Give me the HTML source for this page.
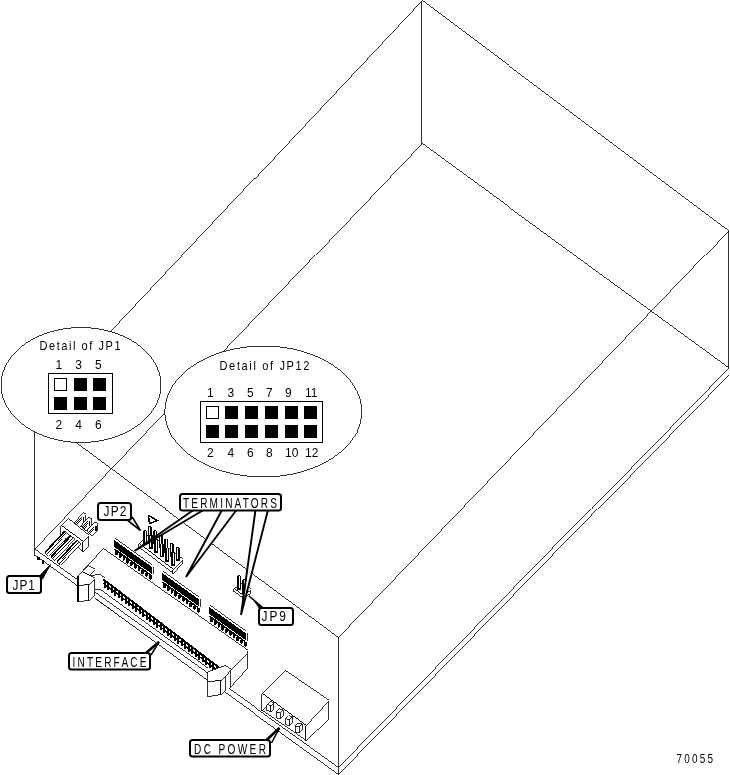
<!DOCTYPE html>
<html><head><meta charset="utf-8"><style>
html,body{margin:0;padding:0;background:#fff;width:730px;height:775px;overflow:hidden}
svg{display:block;will-change:transform}
text{font-family:"Liberation Sans",sans-serif;fill:#000}
</style></head><body>
<svg width="730" height="775" viewBox="0 0 730 775">
<defs>
<pattern id="dots" width="2" height="2" patternUnits="userSpaceOnUse"><rect x="0" y="0" width="1" height="1" fill="#000"/><rect x="1" y="1" width="1" height="1" fill="#000"/></pattern>
</defs>

<g fill="none" stroke="#000" stroke-width="0.8" shape-rendering="crispEdges">
<path d="M421.5 0.5 L728.5 230.5 L728.5 367.5" />
<path d="M421.5 0.5 L421.5 143.5 L728.5 367.5" />
<path d="M728.5 230.5 L338.5 637.5 L338.5 774.5" />
<path d="M728.5 367.5 L338.5 767.5" />
<path d="M728.5 374.5 L338.5 774.5" />
<path d="M421.5 0.5 L34.5 412.5 L34.5 555.5" />
<path d="M421.5 143.5 L34.5 549.5" />
<path d="M34.5 412.5 L338.5 637.5" />
<path d="M34.5 549.5 L338.5 767.5" />
<path d="M34.5 555.5 L338.5 774.5" />
</g>
<g stroke-linejoin="miter" stroke-width="0.8" shape-rendering="crispEdges">
<path d="M74.5 521.5 L82.5 512.5 L85.5 514.5 L85.5 520.5 L79.5 526.5Z" fill="#fff" stroke="#000" stroke-width="0.8" />
<path d="M75.5 522.5 L81.5 516.5 L81.5 520.5 L78.5 524.5Z" fill="url(#dots)" stroke="none" stroke-width="0" />
<path d="M83.5 516.5 L83.5 521.5" stroke="#000" stroke-width="1.5" fill="none"/>
<path d="M80.7 526.1 L88.7 517.1 L91.7 519.1 L91.7 525.1 L85.7 531.1Z" fill="#fff" stroke="#000" stroke-width="0.8" />
<path d="M81.7 527.1 L87.7 521.1 L87.7 525.1 L84.7 529.1Z" fill="url(#dots)" stroke="none" stroke-width="0" />
<path d="M89.7 521.1 L89.7 526.1" stroke="#000" stroke-width="1.5" fill="none"/>
<path d="M86.9 530.7 L94.9 521.7 L97.9 523.7 L97.9 529.7 L91.9 535.7Z" fill="#fff" stroke="#000" stroke-width="0.8" />
<path d="M87.9 531.7 L93.9 525.7 L93.9 529.7 L90.9 533.7Z" fill="url(#dots)" stroke="none" stroke-width="0" />
<path d="M95.9 525.7 L95.9 530.7" stroke="#000" stroke-width="1.5" fill="none"/>
<path d="M67.5 518.5 L88.5 535.5 L82.5 541.5 L60.5 525.5Z" fill="#fff" stroke="#000" stroke-width="0.8" />
<path d="M60.5 525.5 L82.5 541.5 L82.5 551.5 L60.5 535.5Z" fill="#fff" stroke="#000" stroke-width="0.8" />
<path d="M82.5 541.5 L88.5 535.5 L88.5 545.5 L82.5 551.5Z" fill="#fff" stroke="#000" stroke-width="0.8" />
<path d="M65.0 531.0 L69.0 534.5 L48.5 556.0 L45.0 552.5Z" fill="#fff" stroke="#000" stroke-width="0.8" />
<path d="M66.5 533.0 L47.0 554.0" stroke="url(#dots)" stroke-width="1.6" fill="none"/>
<path d="M65.0 531.0 L45.0 552.5" stroke="#000" stroke-width="1.6" fill="none"/>
<path d="M71.0 535.7 L75.0 539.2 L54.5 560.7 L51.0 557.2Z" fill="#fff" stroke="#000" stroke-width="0.8" />
<path d="M72.5 537.7 L53.0 558.7" stroke="url(#dots)" stroke-width="1.6" fill="none"/>
<path d="M71.0 535.7 L51.0 557.2" stroke="#000" stroke-width="1.6" fill="none"/>
<path d="M77.0 540.4 L81.0 543.9 L60.5 565.4 L57.0 561.9Z" fill="#fff" stroke="#000" stroke-width="0.8" />
<path d="M78.5 542.4 L59.0 563.4" stroke="url(#dots)" stroke-width="1.6" fill="none"/>
<path d="M77.0 540.4 L57.0 561.9" stroke="#000" stroke-width="1.6" fill="none"/>
<rect x="37" y="557" width="3" height="3" fill="#000"/>
<rect x="42" y="560" width="2" height="4" fill="#000"/>
<path d="M102.5 548.5 L247.5 650.5 L247.5 667.5 L228.5 688.5 L207.5 696.5 L207.5 680.5 L94.5 597.5 L94.5 601.5 L77.5 601.5 L77.5 575.5Z" fill="#fff" stroke="none" stroke-width="0" />
<path d="M77.5 575.5 L102.5 548.5 L247.5 650.5 L247.5 667.5 L228.5 688.5" fill="none" stroke="#000"/>
<path d="M246.5 653.5 L230.5 669.5 L230.5 686.5" fill="none" stroke="#000"/>
<path d="M103.5 579.5v8h2v-8z M107.0 582.2v8h2v-8z M110.5 584.8v8h2v-8z M114.0 587.5v8h2v-8z M117.5 590.2v8h2v-8z M121.0 592.9v8h2v-8z M124.5 595.5v8h2v-8z M128.0 598.2v8h2v-8z M131.5 600.9v8h2v-8z M135.0 603.5v8h2v-8z M138.5 606.2v8h2v-8z M142.0 608.9v8h2v-8z M145.5 611.5v8h2v-8z M149.0 614.2v8h2v-8z M152.5 616.9v8h2v-8z M156.0 619.6v8h2v-8z M159.5 622.2v8h2v-8z M163.0 624.9v8h2v-8z M166.5 627.6v8h2v-8z M170.0 630.2v8h2v-8z M173.5 632.9v8h2v-8z M177.0 635.6v8h2v-8z M180.5 638.2v8h2v-8z M184.0 640.9v8h2v-8z M187.5 643.6v8h2v-8z M191.0 646.3v8h2v-8z M194.5 648.9v8h2v-8z M198.0 651.6v8h2v-8z M201.5 654.3v8h2v-8z M205.0 656.9v8h2v-8z M208.5 659.6v8h2v-8z M212.0 662.3v8h2v-8z M215.5 664.9v8h2v-8z M219.0 667.6v8h2v-8z" fill="#000" stroke="none"/>
<path d="M103.5 579.5 L219.5 668.0" fill="none" stroke="#000" stroke-width="2"/>
<path d="M103.5 583.5 L219.5 672.0" fill="none" stroke="#000" stroke-width="1.5"/>
<path d="M94.5 589.5 L99.5 589.5 L207.5 668.5" fill="none" stroke="#000"/>
<path d="M94.5 592.5 L207.5 673.5" fill="none" stroke="#000"/>
<path d="M94.5 598.5 L207.5 681.0" fill="none" stroke="#000"/>
<path d="M87.5 565.5 L94.5 569.5 L88.5 575.5 L81.5 571.5Z" fill="#fff" stroke="#000" stroke-width="0.8" />
<path d="M88.5 575.5 L99.5 574.5 L104.5 578.5" fill="none" stroke="#000"/>
<path d="M77.5 575.5 L81.5 571.5 L94.5 578.5 L88.5 584.5 L77.5 585.5Z" fill="#fff" stroke="#000" stroke-width="0.8" />
<path d="M77.5 585.5 L88.5 584.5 L88.5 600.5 L77.5 601.5Z" fill="#fff" stroke="#000" stroke-width="0.8" />
<path d="M88.5 584.5 L94.5 578.5 L94.5 594.5 L88.5 600.5Z" fill="#fff" stroke="#000" stroke-width="0.8" />
<path d="M77.5 575.5 L77.5 601.5" fill="none" stroke="#000" stroke-width="2"/>
<path d="M207.5 671.5 L224.5 665.5 L230.5 669.5 L225.5 675.5 L220.5 680.5 L207.5 681.5Z" fill="#fff" stroke="#000" stroke-width="0.8" />
<path d="M207.5 681.5 L220.5 680.5 L220.5 694.5 L207.5 696.5Z" fill="#fff" stroke="#000" stroke-width="0.8" />
<path d="M220.5 680.5 L225.5 675.5 L225.5 689.5 L220.5 694.5Z" fill="#fff" stroke="#000" stroke-width="0.8" />
<path d="M138.5 543.5 L172.5 569.5 L182.5 559.5 L148.5 533.5Z" fill="#fff" stroke="#000" stroke-width="0.8" />
<path d="M138.5 543.5 L172.5 569.5 L172.5 573.5 L138.5 547.5Z" fill="#fff" stroke="#000" stroke-width="0.8" />
<path d="M172.5 569.5 L182.5 559.5 L182.5 562.5 L172.5 573.5Z" fill="#fff" stroke="#000" stroke-width="0.8" />
<path d="M147.5 526.9 q2 -2.5 4 0 v17 h-4z" fill="#000" stroke="none"/>
<path d="M149.5 526.6 v15.5" fill="none" stroke="#fff" stroke-width="1"/>
<path d="M153.1 531.2 q2 -2.5 4 0 v13 h-4z" fill="#000" stroke="none"/>
<path d="M155.1 530.9 v11.5" fill="none" stroke="#fff" stroke-width="1"/>
<path d="M158.7 535.4 q2 -2.5 4 0 v13 h-4z" fill="#000" stroke="none"/>
<path d="M160.7 535.1 v11.5" fill="none" stroke="#fff" stroke-width="1"/>
<path d="M164.3 539.7 q2 -2.5 4 0 v13 h-4z" fill="#000" stroke="none"/>
<path d="M166.3 539.4 v11.5" fill="none" stroke="#fff" stroke-width="1"/>
<path d="M169.9 543.9 q2 -2.5 4 0 v13 h-4z" fill="#000" stroke="none"/>
<path d="M171.9 543.6 v11.5" fill="none" stroke="#fff" stroke-width="1"/>
<path d="M175.5 548.2 q2 -2.5 4 0 v13 h-4z" fill="#000" stroke="none"/>
<path d="M177.5 547.9 v11.5" fill="none" stroke="#fff" stroke-width="1"/>
<path d="M143.0 531.5 q2 -2.5 4 0 v13 h-4z" fill="#000" stroke="none"/>
<path d="M145.0 531.2 v11.5" fill="none" stroke="#fff" stroke-width="1"/>
<path d="M148.6 535.8 q2 -2.5 4 0 v13 h-4z" fill="#000" stroke="none"/>
<path d="M150.6 535.5 v11.5" fill="none" stroke="#fff" stroke-width="1"/>
<path d="M154.2 540.0 q2 -2.5 4 0 v13 h-4z" fill="#000" stroke="none"/>
<path d="M156.2 539.7 v11.5" fill="none" stroke="#fff" stroke-width="1"/>
<path d="M159.8 544.3 q2 -2.5 4 0 v13 h-4z" fill="#000" stroke="none"/>
<path d="M161.8 544.0 v11.5" fill="none" stroke="#fff" stroke-width="1"/>
<path d="M165.4 548.5 q2 -2.5 4 0 v13 h-4z" fill="#000" stroke="none"/>
<path d="M167.4 548.2 v11.5" fill="none" stroke="#fff" stroke-width="1"/>
<path d="M171.0 552.8 q2 -2.5 4 0 v13 h-4z" fill="#000" stroke="none"/>
<path d="M173.0 552.5 v11.5" fill="none" stroke="#fff" stroke-width="1"/>
<path d="M148.5 515.5 L157.5 520.5 L149.5 523.5Z" fill="#fff" stroke="#000" stroke-width="1.5" />
<path d="M114.5 538.5 L151.5 565.1" fill="none" stroke="#000"/>
<path d="M114.0 540.0 L151.5 566.6 L151.5 573.6 L114.0 547.0Z" fill="#000"/>
<path d="M153.0 566.6 L153.0 574.1" fill="none" stroke="#000"/>
<path d="M115.0 550.9h2.8v3.5l-1.4 1.2l-1.4 -1.2z M118.8 553.6h2.8v3.5l-1.4 1.2l-1.4 -1.2z M122.5 556.3h2.8v3.5l-1.4 1.2l-1.4 -1.2z M126.2 559.0h2.8v3.5l-1.4 1.2l-1.4 -1.2z M130.0 561.7h2.8v3.5l-1.4 1.2l-1.4 -1.2z M133.8 564.4h2.8v3.5l-1.4 1.2l-1.4 -1.2z M137.5 567.1h2.8v3.5l-1.4 1.2l-1.4 -1.2z M141.2 569.8h2.8v3.5l-1.4 1.2l-1.4 -1.2z M145.0 572.5h2.8v3.5l-1.4 1.2l-1.4 -1.2z M148.8 575.2h2.8v3.5l-1.4 1.2l-1.4 -1.2z" fill="#000"/>
<path d="M114.5 549.0 L150.5 574.9" stroke="#000" stroke-width="1.5" fill="none"/>
<path d="M162.5 571.5 L199.0 597.8" fill="none" stroke="#000"/>
<path d="M162.0 573.0 L199.0 599.3 L199.0 606.3 L162.0 580.0Z" fill="#000"/>
<path d="M200.5 599.3 L200.5 606.8" fill="none" stroke="#000"/>
<path d="M163.0 583.9h2.8v3.5l-1.4 1.2l-1.4 -1.2z M166.8 586.6h2.8v3.5l-1.4 1.2l-1.4 -1.2z M170.5 589.3h2.8v3.5l-1.4 1.2l-1.4 -1.2z M174.2 592.0h2.8v3.5l-1.4 1.2l-1.4 -1.2z M178.0 594.7h2.8v3.5l-1.4 1.2l-1.4 -1.2z M181.8 597.4h2.8v3.5l-1.4 1.2l-1.4 -1.2z M185.5 600.1h2.8v3.5l-1.4 1.2l-1.4 -1.2z M189.2 602.8h2.8v3.5l-1.4 1.2l-1.4 -1.2z M193.0 605.5h2.8v3.5l-1.4 1.2l-1.4 -1.2z M196.8 608.2h2.8v3.5l-1.4 1.2l-1.4 -1.2z" fill="#000"/>
<path d="M162.5 582.0 L198.0 607.6" stroke="#000" stroke-width="1.5" fill="none"/>
<path d="M209.5 605.5 L246.0 631.8" fill="none" stroke="#000"/>
<path d="M209.0 607.0 L246.0 633.3 L246.0 640.3 L209.0 614.0Z" fill="#000"/>
<path d="M247.5 633.3 L247.5 640.8" fill="none" stroke="#000"/>
<path d="M210.0 617.9h2.8v3.5l-1.4 1.2l-1.4 -1.2z M213.8 620.6h2.8v3.5l-1.4 1.2l-1.4 -1.2z M217.5 623.3h2.8v3.5l-1.4 1.2l-1.4 -1.2z M221.2 626.0h2.8v3.5l-1.4 1.2l-1.4 -1.2z M225.0 628.7h2.8v3.5l-1.4 1.2l-1.4 -1.2z M228.8 631.4h2.8v3.5l-1.4 1.2l-1.4 -1.2z M232.5 634.1h2.8v3.5l-1.4 1.2l-1.4 -1.2z M236.2 636.8h2.8v3.5l-1.4 1.2l-1.4 -1.2z M240.0 639.5h2.8v3.5l-1.4 1.2l-1.4 -1.2z M243.8 642.2h2.8v3.5l-1.4 1.2l-1.4 -1.2z" fill="#000"/>
<path d="M209.5 616.0 L245.0 641.6" stroke="#000" stroke-width="1.5" fill="none"/>
<path d="M233.5 588.5 L242.5 595.5 L250.5 589.5 L241.5 582.5Z" fill="#fff" stroke="#000" stroke-width="0.8" />
<path d="M233.5 588.5 L242.5 595.5 L242.5 598.5 L233.5 591.5Z" fill="#fff" stroke="#000" stroke-width="0.8" />
<path d="M242.5 595.5 L250.5 589.5 L250.5 592.5 L242.5 598.5Z" fill="#fff" stroke="#000" stroke-width="0.8" />
<path d="M237.0 576.0 q2 -2.5 4 0 v14 h-4z" fill="#000" stroke="none"/>
<path d="M239.0 575.7 v12.5" fill="none" stroke="#fff" stroke-width="1"/>
<path d="M242.0 580.5 q2 -2.5 4 0 v13 h-4z" fill="#000" stroke="none"/>
<path d="M244.0 580.2 v11.5" fill="none" stroke="#fff" stroke-width="1"/>
<path d="M284.5 670.5 L328.5 700.5 L305.5 725.5 L261.5 693.5Z" fill="#fff" stroke="#000" stroke-width="0.8" />
<path d="M261.5 693.5 L305.5 725.5 L305.5 740.5 L261.5 710.5Z" fill="#fff" stroke="#000" stroke-width="0.8" />
<path d="M305.5 725.5 L328.5 700.5 L328.5 718.5 L305.5 740.5Z" fill="#fff" stroke="#000" stroke-width="0.8" />
<path d="M261.5 710.5 L266.5 705.5" fill="none" stroke="#000"/>
<path d="M266.5 704.5 L270.5 705.5 L270.5 711.5 L266.5 710.5Z" fill="#fff" stroke="#000" stroke-width="0.8" />
<path d="M266.5 704.5 L269.5 701.5 L273.5 702.5 L270.5 705.5Z" fill="#fff" stroke="#000" stroke-width="0.8" />
<path d="M270.5 705.5 L273.5 702.5 L273.5 708.5 L270.5 711.5Z" fill="#fff" stroke="#000" stroke-width="0.8" />
<path d="M276.0 711.7 L280.0 712.7 L280.0 718.7 L276.0 717.7Z" fill="#fff" stroke="#000" stroke-width="0.8" />
<path d="M276.0 711.7 L279.0 708.7 L283.0 709.7 L280.0 712.7Z" fill="#fff" stroke="#000" stroke-width="0.8" />
<path d="M280.0 712.7 L283.0 709.7 L283.0 715.7 L280.0 718.7Z" fill="#fff" stroke="#000" stroke-width="0.8" />
<path d="M285.5 718.9 L289.5 719.9 L289.5 725.9 L285.5 724.9Z" fill="#fff" stroke="#000" stroke-width="0.8" />
<path d="M285.5 718.9 L288.5 715.9 L292.5 716.9 L289.5 719.9Z" fill="#fff" stroke="#000" stroke-width="0.8" />
<path d="M289.5 719.9 L292.5 716.9 L292.5 722.9 L289.5 725.9Z" fill="#fff" stroke="#000" stroke-width="0.8" />
<path d="M295.0 726.1 L299.0 727.1 L299.0 733.1 L295.0 732.1Z" fill="#fff" stroke="#000" stroke-width="0.8" />
<path d="M295.0 726.1 L298.0 723.1 L302.0 724.1 L299.0 727.1Z" fill="#fff" stroke="#000" stroke-width="0.8" />
<path d="M299.0 727.1 L302.0 724.1 L302.0 730.1 L299.0 733.1Z" fill="#fff" stroke="#000" stroke-width="0.8" />
</g>
<g fill="#fff" stroke="#000" stroke-width="0.8" shape-rendering="crispEdges">
<ellipse cx="81" cy="385" rx="80" ry="57.5"/>
<ellipse cx="263.3" cy="411.5" rx="98.5" ry="65.5"/>
</g>
<text transform="translate(39.5,349.8) scale(0.86,1)" font-size="12.8" textLength="94.19" lengthAdjust="spacing">Detail of JP1</text>
<g font-size="12">
<text x="55.5" y="369">1</text>
<text x="75.2" y="369">3</text>
<text x="94.9" y="369">5</text>
<text x="55.5" y="429">2</text>
<text x="75.2" y="429">4</text>
<text x="94.9" y="429">6</text>
</g>
<g shape-rendering="crispEdges">
<rect x="48.5" y="373.5" width="64" height="40" fill="none" stroke="#000"/>
<rect x="54.5" y="378.5" width="12" height="12" fill="#fff" stroke="#000"/>
<rect x="74" y="378" width="13" height="13" fill="#000"/>
<rect x="93" y="378" width="13" height="13" fill="#000"/>
<rect x="54" y="397" width="13" height="13" fill="#000"/>
<rect x="74" y="397" width="13" height="13" fill="#000"/>
<rect x="93" y="397" width="13" height="13" fill="#000"/>
</g>
<text transform="translate(219.5,369.8) scale(0.86,1)" font-size="12.8" textLength="104.65" lengthAdjust="spacing">Detail of JP12</text>
<g font-size="12">
<text x="207" y="397">1</text>
<text x="227.5" y="397">3</text>
<text x="247" y="397">5</text>
<text x="266" y="397">7</text>
<text x="285" y="397">9</text>
<text x="305" y="397">11</text>
<text x="207" y="457">2</text>
<text x="227.5" y="457">4</text>
<text x="247" y="457">6</text>
<text x="266" y="457">8</text>
<text x="285" y="457">10</text>
<text x="305" y="457">12</text>
</g>
<g shape-rendering="crispEdges">
<rect x="200.5" y="401.5" width="122" height="41" fill="none" stroke="#000"/>
<rect x="206.5" y="406.5" width="12" height="12" fill="#fff" stroke="#000"/>
<rect x="206" y="425" width="13" height="13" fill="#000"/>
<rect x="225" y="406" width="13" height="13" fill="#000"/>
<rect x="225" y="425" width="13" height="13" fill="#000"/>
<rect x="245" y="406" width="13" height="13" fill="#000"/>
<rect x="245" y="425" width="13" height="13" fill="#000"/>
<rect x="265" y="406" width="13" height="13" fill="#000"/>
<rect x="265" y="425" width="13" height="13" fill="#000"/>
<rect x="285" y="406" width="13" height="13" fill="#000"/>
<rect x="285" y="425" width="13" height="13" fill="#000"/>
<rect x="304" y="406" width="13" height="13" fill="#000"/>
<rect x="304" y="425" width="13" height="13" fill="#000"/>
</g>
<g shape-rendering="geometricPrecision">
<path d="M39 576.5 L42.5 579 L50.5 564.5Z" fill="#000" stroke="#000" stroke-width="1"/>
<path d="M127 520 L132.5 517.5 L140.5 530.5Z" fill="#fff" stroke="#000" stroke-width="1.6"/>
<path d="M193.5 510 L134.5 551 L203.5 510" fill="#fff" stroke="#000" stroke-width="1.9"/>
<path d="M222 510 L186 577 L236.5 510" fill="#fff" stroke="#000" stroke-width="1.9"/>
<path d="M255.5 510 L241 615 L268 510" fill="#fff" stroke="#000" stroke-width="1.9"/>
<path d="M260 609 Q255 600 249 596 L262 607Z" fill="#000" stroke="#000" stroke-width="1.5"/>
<path d="M146.5 652.5 L159 642 L151 655" fill="#fff" stroke="#000" stroke-width="1.5"/>
<path d="M146.5 652.5 L159 642" fill="none" stroke="#000" stroke-width="2.5"/>
<path d="M266.5 740 L279.5 728 L271.5 743" fill="#fff" stroke="#000" stroke-width="1.5"/>
<path d="M266.5 740 L279.5 728" fill="none" stroke="#000" stroke-width="2.5"/>
</g>
<g fill="#fff" stroke="#000" stroke-width="2">
<rect x="7" y="576" width="34" height="17" rx="2.5"/>
<rect x="98" y="503" width="33" height="17" rx="2.5"/>
<rect x="180" y="494" width="101" height="16.5" rx="2.5"/>
<rect x="259" y="608" width="34" height="17" rx="2.5"/>
<rect x="69" y="653" width="81" height="16.5" rx="2.5"/>
<rect x="190" y="740" width="80" height="16.5" rx="2.5"/>
</g>
<text transform="translate(12.5,589.5) scale(0.85,1)" font-size="14" textLength="26.47" lengthAdjust="spacing">JP1</text>
<text transform="translate(103.5,516) scale(0.85,1)" font-size="14" textLength="27.06" lengthAdjust="spacing">JP2</text>
<text transform="translate(183,507.5) scale(0.72,1)" font-size="14" textLength="130.56" lengthAdjust="spacing">TERMINATORS</text>
<text transform="translate(261.5,621) scale(0.85,1)" font-size="14" textLength="28.82" lengthAdjust="spacing">JP9</text>
<text transform="translate(72.5,666.5) scale(0.72,1)" font-size="14" textLength="102.78" lengthAdjust="spacing">INTERFACE</text>
<text transform="translate(194,754) scale(0.72,1)" font-size="14" textLength="100.00" lengthAdjust="spacing">DC POWER</text>
<text transform="translate(676.5,763) scale(0.8,1)" font-size="12.5" textLength="45.62" lengthAdjust="spacing">70055</text>
</svg>
</body></html>
